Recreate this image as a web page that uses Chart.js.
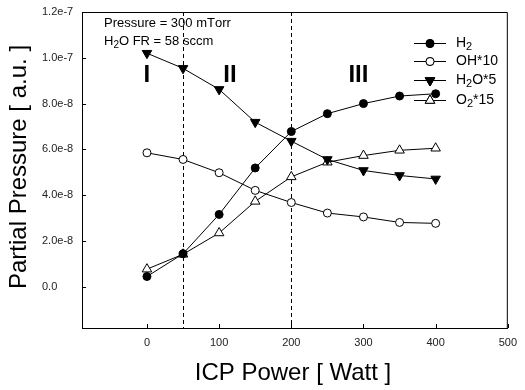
<!DOCTYPE html>
<html>
<head>
<meta charset="utf-8">
<script src="https://cdn.jsdelivr.net/npm/chart.js@4"></script>
<style>
  html, body { margin: 0; padding: 0; background: #fff; }
  #chartCanvas { display: block; }
</style>
</head>
<body>
<canvas id="chartCanvas" width="525" height="390"></canvas>
<script>
// ICP power [W]
const powers = [0, 50, 100, 150, 200, 250, 300, 350, 400];

// partial pressures
const h2 = [0.45e-8, 1.44e-8, 3.16e-8, 5.19e-8, 6.78e-8, 7.56e-8, 8.0e-8, 8.33e-8, 8.43e-8];
const oh10 = [5.85e-8, 5.56e-8, 4.98e-8, 4.21e-8, 3.68e-8, 3.22e-8, 3.05e-8, 2.81e-8, 2.77e-8];
const h2o5 = [10.2e-8, 9.54e-8, 8.62e-8, 7.19e-8, 6.36e-8, 5.56e-8, 5.08e-8, 4.86e-8, 4.71e-8];
const o215 = [0.77e-8, 1.42e-8, 2.35e-8, 3.73e-8, 4.8e-8, 5.44e-8, 5.73e-8, 5.96e-8, 6.05e-8];

const seriesLabels = ['H_2', 'OH*10', 'H_2O*5', 'O_2*15'];
const xTicks = [0, 100, 200, 300, 400, 500];
const yTicks = [0, 2e-8, 4e-8, 6e-8, 8e-8, 1e-7, 1.2e-7];
const yTickLabels = ['0.0', '2.0e-8', '4.0e-8', '6.0e-8', '8.0e-8', '1.0e-7', '1.2e-7'];
const regionLines = [50, 200];
const regionLabels = [{ x: 0, text: 'I' }, { x: 115, text: 'II' }, { x: 293, text: 'III' }];
const noteLines = ['Pressure = 300 mTorr', 'H_2O FR = 58 sccm'];

const toPoints = (vals) => powers.map((p, i) => ({ x: p, y: vals[i] }));

// draws text where "_c" means c is a subscript
function drawRich(ctx, str, x, y, size) {
    let cx = x;
    for (let i = 0; i < str.length; i++) {
        if (str[i] === '_' && i + 1 < str.length) {
            ctx.font = Math.round(size * 0.75) + 'px "Liberation Sans", Arial, sans-serif';
            ctx.fillText(str[i + 1], cx, y + size * 0.3);
            cx += ctx.measureText(str[i + 1]).width;
            i++;
        } else {
            ctx.font = size + 'px "Liberation Sans", Arial, sans-serif';
            ctx.fillText(str[i], cx, y);
            cx += ctx.measureText(str[i]).width;
        }
    }
}

const extrasPlugin = {
    id: 'extras',
    beforeDatasetsDraw(chart) {
        const ctx = chart.ctx;
        const xs = chart.scales.x, ys = chart.scales.y;
        const area = chart.chartArea;
        ctx.save();
        // frame top + right
        ctx.strokeStyle = '#000';
        ctx.lineWidth = 1;
        ctx.beginPath();
        ctx.moveTo(area.left, area.top + 0.5);
        ctx.lineTo(area.right - 0.5, area.top + 0.5);
        ctx.lineTo(area.right - 0.5, area.bottom);
        ctx.stroke();
        // inside ticks
        ctx.beginPath();
        yTicks.forEach(v => {
            const py = Math.round(ys.getPixelForValue(v)) + 0.5;
            ctx.moveTo(area.left, py);
            ctx.lineTo(area.left + 4, py);
        });
        xTicks.forEach(v => {
            const px = Math.round(xs.getPixelForValue(v)) + 0.5;
            ctx.moveTo(px, area.bottom);
            ctx.lineTo(px, area.bottom - 4);
        });
        ctx.stroke();
        // dashed region lines
        ctx.setLineDash([4, 3]);
        ctx.beginPath();
        regionLines.forEach(v => {
            const px = Math.round(xs.getPixelForValue(v)) + 0.5;
            ctx.moveTo(px, area.top);
            ctx.lineTo(px, area.bottom);
        });
        ctx.stroke();
        ctx.setLineDash([]);
        // region numerals
        ctx.fillStyle = '#000';
        ctx.font = 'bold 24px "Liberation Sans", Arial, sans-serif';
        ctx.textAlign = 'center';
        ctx.textBaseline = 'alphabetic';
        regionLabels.forEach(r => {
            ctx.fillText(r.text, xs.getPixelForValue(r.x), 82);
        });
        // condition note
        ctx.textAlign = 'left';
        ctx.textBaseline = 'middle';
        noteLines.forEach((t, i) => drawRich(ctx, t, 104, 23 + i * 18, 13));
        ctx.restore();
    },
    afterDraw(chart) {
        const ctx = chart.ctx;
        ctx.save();
        ctx.fillStyle = '#000';
        // axis titles
        ctx.font = '24px "Liberation Sans", Arial, sans-serif';
        ctx.textAlign = 'center';
        ctx.textBaseline = 'middle';
        ctx.fillText('ICP Power [ Watt ]', 293, 373);
        ctx.translate(19, 167);
        ctx.rotate(-Math.PI / 2);
        ctx.fillText('Partial Pressure [ a.u. ]', 0, 0);
        ctx.restore();

        // legend
        ctx.save();
        const rows = [43, 61, 80, 100];
        chart.data.datasets.forEach((ds, i) => {
            const y = rows[i];
            ctx.strokeStyle = '#000';
            ctx.lineWidth = 1;
            ctx.beginPath();
            ctx.moveTo(414, y + 0.5);
            ctx.lineTo(446, y + 0.5);
            ctx.stroke();
            Chart.helpers.drawPoint(ctx, {
                pointStyle: ds.pointStyle,
                radius: ds.pointRadius,
                rotation: ds.pointRotation || 0,
                borderWidth: 1
            }, 430, y + 0.5);
            ctx.fillStyle = ds.pointBackgroundColor;
            ctx.strokeStyle = '#000';
            ctx.fill();
            ctx.stroke();
            ctx.fillStyle = '#000';
            ctx.textAlign = 'left';
            ctx.textBaseline = 'middle';
            drawRich(ctx, seriesLabels[i], 456, y, 14);
        });
        ctx.restore();
    }
};

function makeSet(label, vals, style, fill, rotation, radius) {
    return {
        label: label,
        data: toPoints(vals),
        showLine: true,
        borderColor: '#000',
        borderWidth: 1,
        pointStyle: style,
        pointRadius: radius,
        pointRotation: rotation,
        pointBackgroundColor: fill,
        pointBorderColor: '#000',
        pointBorderWidth: 1,
        tension: 0
    };
}

const ctx = document.getElementById('chartCanvas').getContext('2d');
new Chart(ctx, {
    type: 'scatter',
    data: {
        datasets: [
            makeSet('H2', h2, 'circle', '#000', 0, 4),
            makeSet('OH*10', oh10, 'circle', '#fff', 0, 4),
            makeSet('H2O*5', h2o5, 'triangle', '#000', 180, 5.5),
            makeSet('O2*15', o215, 'triangle', '#fff', 0, 5.5)
        ]
    },
    options: {
        responsive: false,
        animation: false,
        devicePixelRatio: 1,
        layout: { padding: { left: 42, top: 12, right: 9, bottom: 0 } },
        plugins: { legend: { display: false }, tooltip: { enabled: false } },
        scales: {
            x: {
                type: 'linear',
                min: -90,
                max: 500,
                afterBuildTicks: (scale) => { scale.ticks = xTicks.map(v => ({ value: v })); },
                afterFit: (scale) => { scale.height = 62; },
                grid: { drawOnChartArea: false, drawTicks: false },
                border: { display: true, color: '#000', width: 1 },
                ticks: {
                    padding: 8,
                    color: '#222',
                    font: { family: '"Liberation Sans", Arial, sans-serif', size: 11 }
                }
            },
            y: {
                type: 'linear',
                min: -1.8e-8,
                max: 1.2e-7,
                afterBuildTicks: (scale) => { scale.ticks = yTicks.map(v => ({ value: v })); },
                afterFit: (scale) => { scale.width = 40; },
                grid: { drawOnChartArea: false, drawTicks: false },
                border: { display: true, color: '#000', width: 1 },
                ticks: {
                    crossAlign: 'far',
                    color: '#222',
                    font: { family: '"Liberation Sans", Arial, sans-serif', size: 11 },
                    callback: (value, index) => yTickLabels[index]
                }
            }
        }
    },
    plugins: [extrasPlugin]
});
</script>
</body>
</html>
